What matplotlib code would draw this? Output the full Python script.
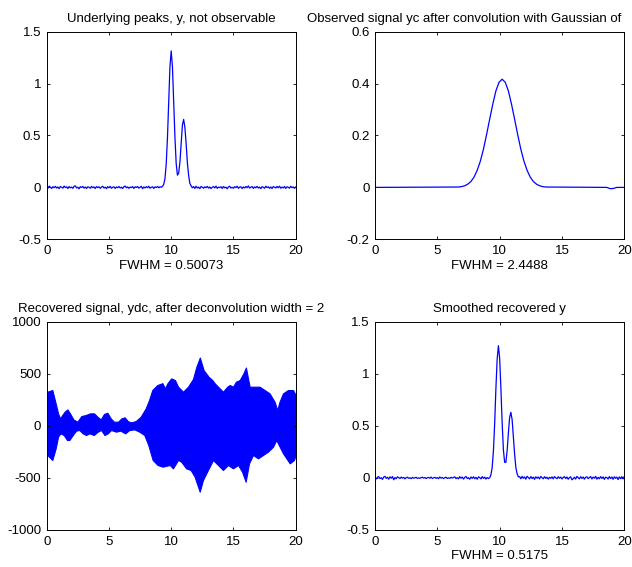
import numpy as np
import matplotlib
matplotlib.use("Agg")
import matplotlib.pyplot as plt

plt.rcParams['font.family'] = ['Liberation Sans', 'DejaVu Sans']

# ---------------- data ----------------
# x grid for the sampled signals (0 .. 20 in steps of 0.1)
x_sig = np.round(np.arange(201) * 0.1, 1)

# Underlying peaks, y
y_true = [
    0.005, -0.008, 0.012, 0.002, -0.010, 0.007, -0.003, 0.010, -0.006, 0.004,
    -0.012, 0.009, 0.001, -0.007, 0.013, -0.002, 0.006, -0.011, 0.008, -0.004,
    0.003, -0.009, 0.011, 0.015, -0.005, 0.002, -0.013, 0.007, -0.001, 0.009,
    -0.007, 0.004, -0.010, 0.006, 0.001, -0.008, 0.010, -0.003, 0.005, -0.011,
    0.008, -0.002, 0.006, -0.009, 0.003, 0.011, -0.006, 0.002, -0.012, 0.007,
    -0.004, 0.010, -0.008, 0.001, 0.006, -0.010, 0.004, -0.003, 0.009, -0.006,
    0.002, -0.011, 0.007, 0.013, -0.004, 0.005, -0.009, 0.003, -0.002, 0.008,
    -0.010, 0.006, -0.001, 0.009, -0.007, 0.002, 0.010, -0.012, 0.004, -0.005,
    0.007, -0.003, 0.011, -0.008, 0.001, 0.006, -0.010, 0.005, -0.002, 0.009,
    -0.004, 0.006, 0.001, 0.010, 0.030, 0.085, 0.225, 0.480, 0.838, 1.165,
    1.315, 1.160, 0.832, 0.486, 0.230, 0.118, 0.138, 0.242, 0.420, 0.600,
    0.655, 0.578, 0.420, 0.236, 0.115, 0.038, 0.015, -0.004, 0.008, -0.010,
    0.011, -0.006, 0.003, -0.012, 0.009, 0.002, -0.008, 0.006, -0.003, 0.010,
    -0.007, 0.004, -0.011, 0.001, 0.008, -0.005, 0.012, -0.009, 0.003, -0.002,
    0.006, -0.010, 0.009, -0.004, 0.002, -0.013, 0.005, 0.010, -0.006, 0.001,
    -0.008, 0.007, -0.002, 0.011, -0.009, 0.003, 0.006, -0.011, 0.004, -0.005,
    0.009, -0.003, 0.014, -0.007, 0.002, 0.008, -0.010, 0.005, -0.004, 0.010,
    -0.006, 0.003, -0.012, 0.007, 0.001, -0.008, 0.011, -0.002, 0.006, -0.009,
    0.004, -0.011, 0.008, 0.002, -0.006, 0.010, -0.004, 0.012, -0.008, 0.003,
    -0.005, 0.009, -0.010, 0.006, 0.001, -0.007, 0.011, -0.003, 0.005, -0.009,
    0.004,
]

# Observed (convolved) signal yc
x_conv = [0.0, 6.7, 6.95, 7.2, 7.45, 7.7, 7.95, 8.2, 8.45, 8.7, 8.95, 9.2,
          9.45, 9.7, 9.95, 10.2, 10.45, 10.7, 10.95, 11.2, 11.45, 11.7, 11.95,
          12.2, 12.45, 12.7, 12.95, 13.2, 13.45, 13.7, 18.6, 18.8, 19.0, 19.2,
          19.4, 20.0]
y_conv = [0.0, 0.0015, 0.003, 0.0065, 0.0127, 0.023, 0.040, 0.066, 0.101,
          0.147, 0.203, 0.263, 0.321, 0.372, 0.405, 0.417, 0.405, 0.372, 0.321,
          0.263, 0.203, 0.147, 0.101, 0.066, 0.040, 0.023, 0.0127, 0.0065,
          0.003, 0.0015, 0.0, -0.004, -0.005, -0.003, 0.0, 0.0]

# Recovered signal ydc (upper / lower envelope of the dense oscillation)
x_env_up = [0.0, 0.05, 0.45, 0.72, 0.91, 1.07, 1.25, 1.44, 1.66, 1.87, 2.14,
            2.46, 2.78, 3.13, 3.48, 3.80, 4.07, 4.34, 4.60, 4.87, 5.14, 5.40,
            5.73, 6.00, 6.26, 6.53, 6.80, 7.15, 7.55, 7.95, 8.22, 8.48, 8.88,
            9.29, 9.50, 9.69, 10.0, 10.3, 10.55, 10.95, 11.35, 11.75, 12.0,
            12.3, 12.6, 13.0, 13.3, 13.5, 13.76, 14.16, 14.5, 14.7, 14.96,
            15.2, 15.5, 15.8, 16.0, 16.3, 16.7, 17.1, 17.5, 17.9, 18.3, 18.52,
            18.7, 18.98, 19.38, 19.78, 20.0]
y_env_up = [300, 328, 344, 216, 120, 72, 104, 136, 158, 120, 62, 40, 94, 104,
            120, 120, 88, 62, 114, 126, 72, 40, 40, 72, 82, 43, 34, 46, 88,
            168, 248, 344, 392, 410, 360, 408, 456, 440, 376, 328, 376, 450,
            560, 656, 536, 472, 440, 408, 376, 328, 376, 392, 376, 424, 440,
            504, 560, 376, 376, 376, 344, 312, 232, 152, 232, 312, 344, 344,
            296]
x_env_lo = [0.0, 0.05, 0.45, 0.72, 0.91, 1.10, 1.37, 1.63, 1.82, 2.09, 2.36,
            2.62, 2.89, 3.16, 3.43, 3.78, 4.10, 4.37, 4.64, 4.90, 5.17, 5.57,
            5.92, 6.30, 6.64, 7.04, 7.44, 7.84, 8.16, 8.51, 8.91, 9.31, 9.88,
            10.14, 10.55, 10.8, 11.2, 11.56, 11.88, 12.29, 12.55, 12.95,
            13.36, 13.76, 14.16, 14.56, 14.96, 15.37, 15.69, 15.98, 16.25,
            16.57, 16.97, 17.37, 17.77, 18.18, 18.44, 18.71, 18.98, 19.25,
            19.52, 19.86, 20.0]
y_env_lo = [-260, -280, -328, -216, -104, -72, -88, -136, -136, -88, -46, -40,
            -72, -88, -72, -88, -56, -40, -88, -72, -40, -56, -46, -72, -40,
            -34, -56, -88, -184, -328, -376, -392, -376, -408, -328, -344,
            -408, -424, -488, -632, -520, -424, -328, -376, -424, -376, -408,
            -376, -440, -536, -360, -280, -312, -280, -248, -200, -136, -200,
            -264, -312, -360, -328, -280]

# Smoothed recovered y
y_smooth = [
    0.004, -0.010, 0.008, 0.012, -0.006, 0.002, -0.014, 0.009, 0.015, -0.004,
    0.006, -0.012, 0.010, -0.003, 0.013, -0.018, 0.004, -0.008, 0.011, 0.002,
    -0.006, 0.008, -0.002, 0.005, -0.009, 0.003, 0.007, -0.004, 0.001, -0.007,
    0.005, -0.003, 0.002, 0.006, -0.005, 0.001, -0.004, 0.003, 0.007, -0.002,
    0.004, -0.006, 0.002, 0.005, -0.003, 0.008, -0.005, 0.001, 0.006, -0.004,
    0.003, -0.007, 0.009, -0.002, 0.004, -0.006, 0.002, 0.007, -0.005, 0.001,
    -0.004, 0.006, -0.002, 0.005, 0.010, -0.007, 0.003, -0.009, 0.012, -0.003,
    0.008, -0.011, 0.005, 0.014, -0.006, 0.002, -0.012, 0.009, -0.004, 0.011,
    -0.008, 0.006, -0.013, 0.010, 0.003, -0.009, 0.012, -0.005, 0.008, -0.011,
    0.004, -0.006, 0.002, 0.030, 0.100, 0.260, 0.520, 0.860, 1.140, 1.270,
    1.150, 0.860, 0.530, 0.270, 0.150, 0.150, 0.260, 0.430, 0.580, 0.630,
    0.560, 0.400, 0.230, 0.100, 0.040, 0.010, 0.012, -0.008, 0.015, -0.004,
    0.010, -0.012, 0.016, 0.003, -0.009, 0.013, -0.006, 0.008, -0.014, 0.011,
    -0.003, 0.009, -0.010, 0.014, 0.002, -0.008, 0.012, -0.005, 0.007, -0.011,
    0.006, -0.004, 0.010, -0.009, 0.013, 0.001, -0.007, 0.011, -0.003, 0.008,
    -0.010, 0.005, 0.012, -0.006, 0.009, -0.013, 0.004, 0.010, -0.018, -0.008,
    0.007, -0.011, 0.014, 0.002, -0.009, 0.012, -0.005, 0.009, -0.012, 0.006,
    0.011, -0.007, 0.004, 0.013, -0.010, 0.008, -0.003, 0.015, -0.012, 0.006,
    -0.008, 0.012, -0.005, 0.010, -0.014, 0.007, 0.003, -0.011, 0.013, -0.006,
    0.009, -0.013, 0.011, -0.004, 0.008, -0.016, 0.010, -0.007, 0.012, -0.009,
    0.014,
]

titles = ["Underlying peaks, y, not observable",
          "Observed signal yc after convolution with Gaussian of",
          "Recovered signal, ydc, after deconvolution width = 2",
          "Smoothed recovered y"]
xlabels = ["FWHM = 0.50073", "FWHM = 2.4488", "", "FWHM = 0.5175"]
xticks = [0, 5, 10, 15, 20]
yticks_peaks = [-0.5, 0, 0.5, 1, 1.5]
ytick_lab_peaks = ["-0.5", "0", "0.5", "1", "1.5"]
yticks_conv = [-0.2, 0, 0.2, 0.4, 0.6]
ytick_lab_conv = ["-0.2", "0", "0.2", "0.4", "0.6"]
yticks_dc = [-1000, -500, 0, 500, 1000]
ytick_lab_dc = ["-1000", "-500", "0", "500", "1000"]

# ---------------- figure ----------------
W, H = 632, 567
fig = plt.figure(figsize=(W / 100, H / 100), dpi=100)
BLUE = (0, 0, 1)
FS = 9.5


def make_ax(l, t, r, b):
    return fig.add_axes([l / W, 1 - b / H, (r - l) / W, (b - t) / H])


ax1 = make_ax(46.7, 31.7, 295.7, 239.3)
ax2 = make_ax(375.0, 31.7, 624.3, 239.3)
ax3 = make_ax(46.7, 321.7, 295.7, 530.0)
ax4 = make_ax(375.0, 321.7, 624.3, 530.0)

ax1.plot(x_sig, y_true, color=BLUE, lw=0.9)
ax2.plot(x_conv, y_conv, color=BLUE, lw=0.9)
ax3.fill_between(x_env_up, y_env_up, 0, color=BLUE, lw=0.8)
ax3.fill_between(x_env_lo, y_env_lo, 0, color=BLUE, lw=0.8)
ax4.plot(x_sig, y_smooth, color=BLUE, lw=0.9)

setup = [(ax1, yticks_peaks, ytick_lab_peaks),
         (ax2, yticks_conv, ytick_lab_conv),
         (ax3, yticks_dc, ytick_lab_dc),
         (ax4, yticks_peaks, ytick_lab_peaks)]

for i, (ax, yt, ytl) in enumerate(setup):
    ax.set_xlim(0, 20)
    ax.set_ylim(yt[0], yt[-1])
    ax.set_xticks(xticks)
    ax.set_xticklabels([str(v) for v in xticks])
    ax.set_yticks(yt)
    ax.set_yticklabels(ytl)
    ax.tick_params(direction='in', length=2.5, width=0.6, top=True,
                   right=True, labelsize=FS, pad=4, colors='black')
    for s in ax.spines.values():
        s.set_linewidth(0.7)
    if xlabels[i]:
        ax.set_xlabel(xlabels[i], fontsize=FS, labelpad=2)

ax1.set_title(titles[0], fontsize=FS, pad=7)
ax3.set_title(titles[2], fontsize=FS, pad=7)
ax4.set_title(titles[3], fontsize=FS, pad=7)
ax2.text((307 - 375) / 249.3, 1 + 7 / 207.6, titles[1], fontsize=FS,
         ha='left', va='bottom', transform=ax2.transAxes)

fig.savefig("out.png", dpi=100)
